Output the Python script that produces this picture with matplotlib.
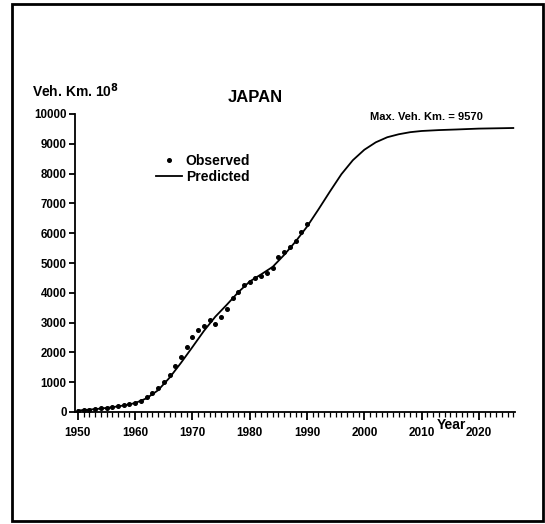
import matplotlib
matplotlib.use("Agg")
import matplotlib.pyplot as plt
from matplotlib.patches import Rectangle

plt.rcParams["font.family"] = ["Liberation Sans", "DejaVu Sans"]
plt.rcParams["font.weight"] = "bold"

# observed vehicle km (10^8), one point per year
obs_years = list(range(1950, 1991))
obs_vals = [40, 60, 80, 100, 120, 140, 165, 190, 220, 260,
            300, 380, 500, 630, 800, 1000, 1250, 1550, 1850, 2180,
            2530, 2750, 2890, 3090, 2950, 3200, 3450, 3820, 4040, 4260,
            4370, 4490, 4560, 4650, 4830, 5200, 5380, 5550, 5750, 6050,
            6300]

# predicted curve
pred_years = [1950, 1952, 1954, 1956, 1958, 1960, 1962, 1964, 1966, 1968,
              1970, 1972, 1974, 1976, 1978, 1980, 1982, 1984, 1986, 1988,
              1990, 1992, 1994, 1996, 1998, 2000, 2002, 2004, 2006, 2008,
              2010, 2013, 2016, 2020, 2026]
pred_vals = [50, 80, 115, 160, 220, 300, 460, 730, 1150, 1650,
             2180, 2720, 3200, 3600, 4020, 4380, 4620, 4870, 5270, 5720,
             6220, 6800, 7400, 7980, 8450, 8800, 9050, 9220, 9320, 9390,
             9430, 9460, 9480, 9510, 9530]

W, H = 545, 524
fig = plt.figure(figsize=(W / 100, H / 100), dpi=100)
fig.patch.set_facecolor("white")
fig.patches.append(Rectangle((12 / W, 3 / H), 531 / W, 517 / H, transform=fig.transFigure,
                             fill=False, lw=2, ec="black"))

ax = fig.add_axes([75 / W, (H - 412) / H, 440 / W, 298 / H])
ax.plot(pred_years, pred_vals, color="black", lw=1.3, label="Predicted")
ax.plot(obs_years, obs_vals, "o", color="black", ms=2.6, label="Observed")

ax.set_xlim(1949.5, 2026.3)
ax.set_ylim(0, 10000)
ax.set_xticks(range(1950, 2030, 10))
ax.set_xticks(range(1950, 2027), minor=True)
ax.set_yticks(range(0, 10001, 1000))
ax.spines["top"].set_visible(False)
ax.spines["right"].set_visible(False)
ax.spines["left"].set_linewidth(1.3)
ax.spines["bottom"].set_linewidth(1.3)
ax.tick_params(axis="x", which="major", length=6, width=1.3, labelsize=8.5, pad=5)
ax.tick_params(axis="x", which="minor", length=3.5, width=0.9)
ax.tick_params(axis="y", which="major", length=4, width=1.3, labelsize=8.3, pad=2)

h, l = ax.get_legend_handles_labels()
ax.legend([h[1], h[0]], [l[1], l[0]], loc="upper left", bbox_to_anchor=(0.168, 0.89),
          frameon=False, fontsize=10, handlelength=1.9, handletextpad=0.25,
          labelspacing=0.15, borderpad=0, markerscale=1.0)

fig.text(32 / W, 1 - 91 / H, "Veh. Km. 10$^\\mathbf{8}$", fontsize=10, va="center", ha="left")
fig.text(255 / W, 1 - 98 / H, "JAPAN", fontsize=12, va="center", ha="center")
fig.text(426 / W, 1 - 117 / H, "Max. Veh. Km. = 9570", fontsize=8, va="center", ha="center")
fig.text(451 / W, 1 - 425 / H, "Year", fontsize=10, va="center", ha="center")

fig.savefig("out.png", dpi=100)
